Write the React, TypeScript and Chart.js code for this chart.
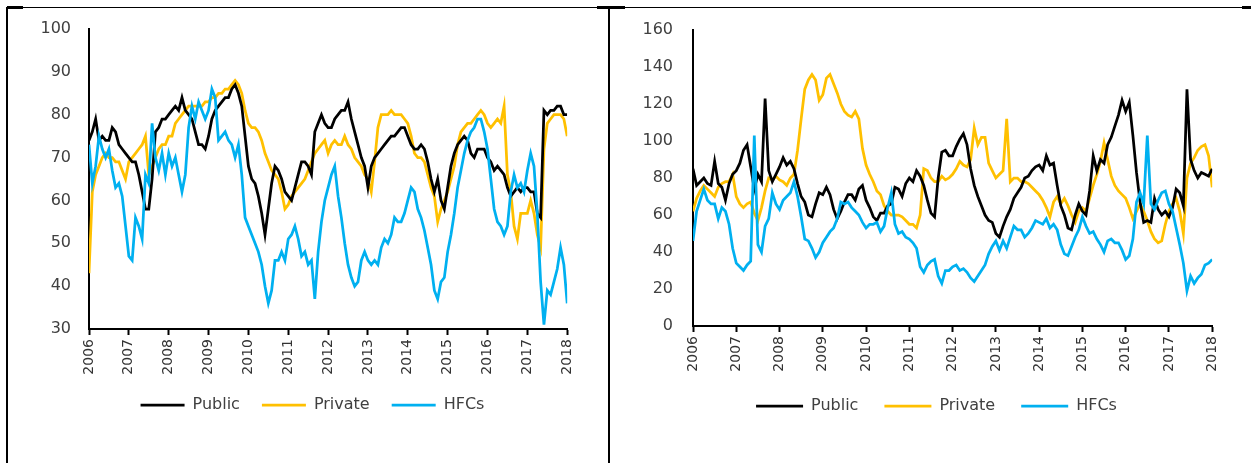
import { useEffect, useRef } from "react";
import { Chart, registerables } from "chart.js";

Chart.register(...registerables);

// ---- shared settings -------------------------------------------------------
const START_YEAR = 2006;
const END_YEAR = 2018;
const yearTicks = [2006, 2007, 2008, 2009, 2010, 2011, 2012, 2013, 2014, 2015, 2016, 2017, 2018];
const seriesNames = ["Public", "Private", "HFCs"];
const seriesColors = ["#000000", "#FFC000", "#00B0F0"];
// lower value = drawn later (on top)
const seriesOrder = [1, 2, 0];

// ---- left panel: monthly readings, Jan 2006 .. Jan 2018 ----------------------
const leftPublic = [
  74, 76, 79, 74, 75, 74, 74, 77, 76, 73, 72, 71,
  70, 69, 69, 66, 62, 58, 58, 65, 76, 77, 79, 79,
  80, 81, 82, 81, 84, 81, 80, 79, 76, 73, 73, 72,
  75, 79, 81, 82, 83, 84, 84, 86, 87, 85, 82, 75,
  68, 65, 64, 61, 57, 52, 58, 64, 68, 67, 65, 62,
  61, 60, 63, 66, 69, 69, 68, 66, 76, 78, 80, 78,
  77, 77, 79, 80, 81, 81, 83, 79, 76, 73, 70, 68,
  63, 68, 70, 71, 72, 73, 74, 75, 75, 76, 77, 77,
  75, 73, 72, 72, 73, 72, 69, 65, 62, 65, 60, 58,
  63, 68, 71, 73, 74, 75, 74, 71, 70, 72, 72, 72,
  70, 69, 67, 68, 67, 66, 63, 61, 62, 63, 62, 63,
  63, 62, 62, 57, 56, 81, 80, 81, 81, 82, 82, 80, 80,
];
const leftPrivate = [
  43, 62, 66, 68, 70, 71, 70, 70, 69, 69, 67, 65,
  69, 70, 71, 72, 73, 75, 66, 68, 70, 72, 73, 73,
  75, 75, 78, 79, 80, 81, 82, 82, 82, 82, 82, 83,
  83, 84, 84, 85, 85, 86, 86, 87, 88, 87, 85, 81,
  78, 77, 77, 76, 74, 71, 69, 67, 66, 65, 62, 58,
  59, 61, 62, 63, 64, 65, 67, 69, 71, 72, 73, 74,
  71, 73, 74, 73, 73, 75, 73, 72, 70, 69, 68, 66,
  65, 62, 69, 77, 80, 80, 80, 81, 80, 80, 80, 79,
  78, 75, 71, 70, 70, 69, 66, 63, 61, 55, 58, 60,
  62, 65, 68, 73, 76, 77, 78, 78, 79, 80, 81, 80,
  78, 77, 78, 79, 78, 82, 66, 62, 54, 51, 57, 57,
  57, 60, 57, 52, 49, 72, 78, 79, 80, 80, 80, 79, 75,
];
const leftHFCs = [
  73, 64, 68, 75, 72, 70, 72, 67, 63, 64, 61, 54,
  47, 46, 56, 54, 51, 66, 64, 78, 70, 67, 71, 66,
  71, 68, 70, 66, 62, 66, 77, 82, 79, 83, 81, 79,
  81, 86, 84, 74, 75, 76, 74, 73, 70, 73, 66, 56,
  54, 52, 50, 48, 45, 40, 36, 39, 46, 46, 48, 46,
  51, 52, 54, 51, 47, 48, 45, 46, 37, 48, 55, 60,
  63, 66, 68, 61, 56, 50, 45, 42, 40, 41, 46, 48,
  46, 45, 46, 45, 49, 51, 50, 52, 56, 55, 55, 57,
  60, 63, 62, 58, 56, 53, 49, 45, 39, 37, 41, 42,
  48, 52, 57, 63, 67, 71, 74, 76, 77, 79, 79, 76,
  72, 65, 58, 55, 54, 52, 54, 62, 66, 63, 64, 62,
  67, 71, 68, 57, 41, 31, 39, 38, 41, 44, 49, 45, 36,
];
const leftYTicks = { min: 30, max: 100, step: 10 };

// ---- right panel: monthly readings, Jan 2006 .. Jan 2018 ---------------------
const rightPublic = [
  85, 76, 78, 80, 77, 76, 89, 77, 75, 68, 77, 82,
  84, 88, 95, 98, 86, 74, 82, 78, 123, 84, 78, 82,
  86, 91, 87, 89, 85, 77, 70, 67, 60, 59, 66, 72,
  71, 75, 71, 63, 58, 62, 67, 71, 71, 68, 74, 76,
  68, 64, 59, 57, 61, 61, 65, 66, 75, 74, 70, 77,
  80, 78, 84, 81, 76, 68, 61, 59, 80, 94, 95, 92,
  92, 97, 101, 104, 98, 85, 76, 70, 65, 60, 57, 56,
  50, 48, 54, 59, 63, 69, 72, 75, 80, 81, 84, 86,
  87, 84, 92, 87, 88, 76, 65, 60, 53, 52, 60, 66,
  62, 60, 73, 92, 84, 90, 88, 98, 102, 108, 114, 122,
  116, 121, 103, 83, 67, 56, 57, 56, 69, 63, 60, 62,
  59, 64, 74, 72, 65, 128, 90, 84, 80, 83, 82, 81, 85,
];
const rightPrivate = [
  62, 69, 73, 76, 74, 72, 70, 75, 77, 78, 78, 82,
  70, 66, 64, 66, 67, 61, 57, 64, 73, 80, 79, 81,
  79, 78, 76, 80, 82, 95, 112, 128, 133, 136, 133, 122,
  125, 134, 136, 131, 126, 120, 116, 114, 113, 116, 112, 96,
  87, 82, 78, 73, 71, 65, 62, 60, 60, 60, 59, 57,
  55, 55, 53, 60, 85, 84, 80, 78, 78, 81, 79, 80,
  82, 85, 89, 87, 86, 90, 107, 98, 102, 102, 88, 84,
  80, 82, 84, 112, 78, 80, 80, 78, 78, 77, 75, 73,
  71, 68, 64, 59, 67, 70, 66, 69, 65, 60, 56, 62,
  64, 62, 69, 76, 82, 89, 99, 90, 81, 76, 73, 71,
  69, 64, 58, 62, 66, 62, 57, 51, 47, 45, 46, 55,
  62, 66, 69, 62, 50, 80, 88, 91, 95, 97, 98, 92, 75,
];
const rightHFCs = [
  46, 62, 68, 74, 68, 66, 66, 58, 64, 62, 55, 42,
  34, 32, 30, 33, 35, 103, 44, 40, 54, 58, 72, 66,
  63, 68, 70, 72, 78, 70, 59, 47, 46, 42, 37, 40,
  45, 48, 51, 53, 58, 67, 66, 67, 64, 62, 60, 56,
  53, 55, 55, 56, 51, 54, 64, 72, 55, 50, 51, 48,
  47, 45, 42, 32, 29, 33, 35, 36, 27, 23, 30, 30,
  32, 33, 30, 31, 29, 26, 24, 27, 30, 33, 39, 43,
  46, 41, 46, 42, 48, 54, 52, 52, 48, 50, 53, 57,
  56, 55, 58, 53, 55, 52, 44, 39, 38, 43, 48, 52,
  59, 54, 50, 51, 47, 44, 40, 46, 47, 45, 45, 41,
  36, 38, 47, 67, 72, 66, 103, 66, 63, 68, 72, 73,
  66, 62, 53, 44, 34, 19, 27, 23, 26, 28, 33, 34, 36,
];
const rightYTicks = { min: 0, max: 160, step: 20 };

// ---- chart building ----------------------------------------------------------
const TEXT_COLOR = "#404040";
const FONT_FAMILY = "'DejaVu Sans', sans-serif";

type PanelSpec = {
  series: number[][];
  yTicks: { min: number; max: number; step: number };
  width: number;
  height: number;
  padLeft: number;
  padRight: number;
  padTop: number;
  padBottom: number;
  yAxisWidth: number;
  xAxisHeight: number;
  yLabelGap: number;
  legendLine: number;
  legendGap: number;
};

function toPoints(values: number[]) {
  return values.map((v, i) => ({ x: START_YEAR + i / 12, y: v }));
}

// The y scale box is narrower than its labels (the padding keeps the legend
// centred under the plot), so widen its label clip region to the canvas edge.
const widenYLabelArea = {
  id: "widenYLabelArea",
  afterLayout(chart: any) {
    const y = chart.scales.y;
    if (y) y.left = 0;
  },
};

function buildConfig(spec: PanelSpec): any {
  return {
    type: "line",
    data: {
      datasets: spec.series.map((values, k) => ({
        label: seriesNames[k],
        data: toPoints(values),
        borderColor: seriesColors[k],
        backgroundColor: seriesColors[k],
        borderWidth: 2.75,
        pointRadius: 0,
        pointHoverRadius: 0,
        tension: 0,
        fill: false,
        order: seriesOrder[k],
      })),
    },
    options: {
      animation: false,
      responsive: false,
      maintainAspectRatio: false,
      events: [],
      layout: {
        padding: {
          left: spec.padLeft,
          right: spec.padRight,
          top: spec.padTop,
          bottom: spec.padBottom,
        },
      },
      scales: {
        x: {
          type: "linear",
          min: START_YEAR,
          max: END_YEAR,
          afterBuildTicks: (scale: any) => {
            scale.ticks = yearTicks.map((v) => ({ value: v }));
          },
          afterFit: (scale: any) => {
            scale.height = spec.xAxisHeight;
          },
          ticks: {
            autoSkip: false,
            minRotation: 90,
            maxRotation: 90,
            padding: 4,
            color: "#333333",
            font: { family: FONT_FAMILY, size: 14 },
            callback: (v: any) => String(v),
          },
          grid: {
            display: true,
            drawOnChartArea: false,
            drawTicks: true,
            tickLength: 6,
            tickWidth: 2,
            tickColor: "#000000",
            color: "#000000",
          },
          border: { display: true, color: "#000000", width: 2 },
        },
        y: {
          type: "linear",
          min: spec.yTicks.min,
          max: spec.yTicks.max,
          afterFit: (scale: any) => {
            scale.width = spec.yAxisWidth;
          },
          ticks: {
            stepSize: spec.yTicks.step,
            padding: spec.yLabelGap,
            color: TEXT_COLOR,
            font: { family: FONT_FAMILY, size: 16 },
          },
          grid: { display: false, drawTicks: false, tickLength: 0 },
          border: { display: true, color: "#000000", width: 2 },
        },
      },
      plugins: {
        legend: {
          display: true,
          position: "bottom",
          labels: {
            usePointStyle: true,
            pointStyle: "line",
            pointStyleWidth: spec.legendLine,
            padding: spec.legendGap,
            color: TEXT_COLOR,
            font: { family: FONT_FAMILY, size: 16 },
            sort: (a: any, b: any) => a.datasetIndex - b.datasetIndex,
          },
        },
        tooltip: { enabled: false },
      },
    },
    plugins: [widenYLabelArea],
  };
}

function Panel({ spec, left, top }: { spec: PanelSpec; left: number; top: number }) {
  const ref = useRef<HTMLCanvasElement | null>(null);
  useEffect(() => {
    if (!ref.current) return;
    const chart = new Chart(ref.current, buildConfig(spec));
    return () => chart.destroy();
  }, [spec]);
  return (
    <canvas
      ref={ref}
      width={spec.width}
      height={spec.height}
      style={{ position: "absolute", left, top, width: spec.width, height: spec.height }}
    />
  );
}

const leftSpec: PanelSpec = {
  series: [leftPublic, leftPrivate, leftHFCs],
  yTicks: leftYTicks,
  width: 588,
  height: 463,
  padLeft: 57,
  padRight: 20,
  padTop: 29,
  padBottom: 40,
  yAxisWidth: 32,
  xAxisHeight: 46,
  yLabelGap: 18,
  legendLine: 44,
  legendGap: 22,
};

const rightSpec: PanelSpec = {
  series: [rightPublic, rightPrivate, rightHFCs],
  yTicks: rightYTicks,
  width: 624,
  height: 463,
  padLeft: 51,
  padRight: 20,
  padTop: 30,
  padBottom: 39,
  yAxisWidth: 33,
  xAxisHeight: 46,
  yLabelGap: 20,
  legendLine: 47,
  legendGap: 26,
};

function Rule({ x, y, w, h }: { x: number; y: number; w: number; h: number }) {
  return <div style={{ position: "absolute", left: x, top: y, width: w, height: h, background: "#000" }} />;
}

export default function App() {
  return (
    <div
      style={{
        position: "fixed",
        left: 0,
        top: 0,
        width: 1251,
        height: 463,
        background: "#ffffff",
        overflow: "hidden",
      }}
    >
      {/* table cell borders */}
      <Rule x={7} y={7} w={1244} h={1} />
      <Rule x={7} y={6} w={16} h={3} />
      <Rule x={597} y={6} w={28} h={3} />
      <Rule x={1242} y={6} w={9} h={3} />
      <Rule x={6} y={7} w={2} h={456} />
      <Rule x={608} y={7} w={2} h={456} />
      <Panel spec={leftSpec} left={0} top={0} />
      <Panel spec={rightSpec} left={609} top={0} />
    </div>
  );
}
